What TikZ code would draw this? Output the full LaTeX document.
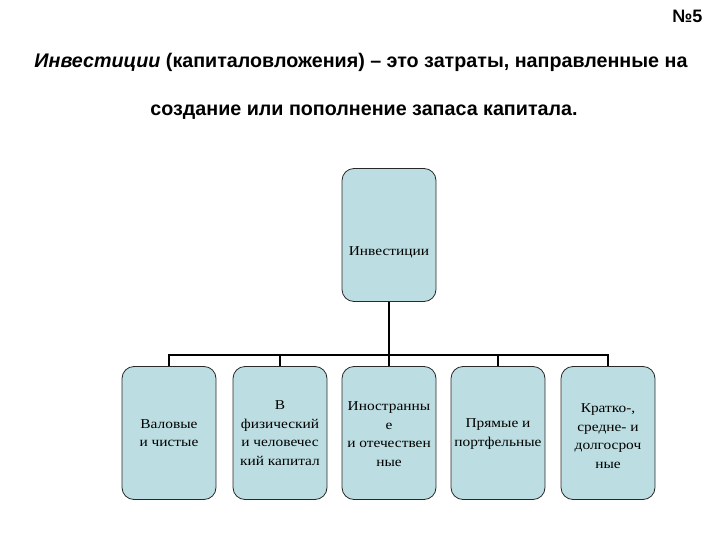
\documentclass[tikz,border=0pt]{standalone}
\usepackage{fontspec}
\setmainfont{Liberation Serif}
\newfontfamily\titlefont{Liberation Sans}
\newfontfamily\boxfont[FakeStretch=1.14]{Liberation Serif}
\definecolor{boxfill}{RGB}{188,222,226}
\definecolor{boxline}{RGB}{40,40,40}
\begin{document}
\begin{tikzpicture}[x=1pt,y=-1pt,
  invbox/.style={draw=boxline, line width=0.8pt, fill=boxfill, rounded corners=12pt,
    minimum width=94pt, minimum height=133pt, inner sep=0pt},
  boxtext/.style={align=center, font=\boxfont\fontsize{13.5}{18.5}\selectfont, inner sep=0pt},
  titletext/.style={font=\titlefont\bfseries\fontsize{19.7}{19.7}\selectfont},
  conn/.style={line width=2pt, black}]
\useasboundingbox (0,0) rectangle (720,540);
\node[anchor=east, font=\titlefont\bfseries\fontsize{18}{18}\selectfont] (num) at (706,16) {№5};
\node[titletext] (l1) at (361,62)
  {\textit{Инвестиции} (капиталовложения) – это затраты, направленные на};
\node[titletext] (l2) at (364,112)
  {создание или пополнение запаса капитала.};
% top
\node[invbox] (top) at (389,235) {};
\node[boxtext] (toptext) at (389,252) {Инвестиции};
% bottom boxes
\node[invbox] (b1) at (169,433) {};
\node[invbox] (b2) at (280,433) {};
\node[invbox] (b3) at (389,433) {};
\node[invbox] (b4) at (498,433) {};
\node[invbox] (b5) at (608,433) {};
\node[boxtext] (t1) at (169,433) {Валовые\\и чистые};
\node[boxtext] (t2) at (280,433) {В\\физический\\и человечес\\кий капитал};
\node[boxtext] (t3) at (389,434) {Иностранны\\е\\и отечествен\\ные};
\node[boxtext] (t4) at (498,434) {Прямые и\\портфельные};
\node[boxtext] (t5) at (608,436) {Кратко-,\\средне- и\\долгосроч\\ные};
% connectors
\coordinate (bus) at (389,355);
\draw[conn] (top.south) -- (bus);
\draw[conn] (b1.north) -- (b1.north |- bus) -- (b5.north |- bus) -- (b5.north);
\draw[conn] (b2.north) -- (b2.north |- bus);
\draw[conn] (b3.north) -- (b3.north |- bus);
\draw[conn] (b4.north) -- (b4.north |- bus);
\end{tikzpicture}
\end{document}
